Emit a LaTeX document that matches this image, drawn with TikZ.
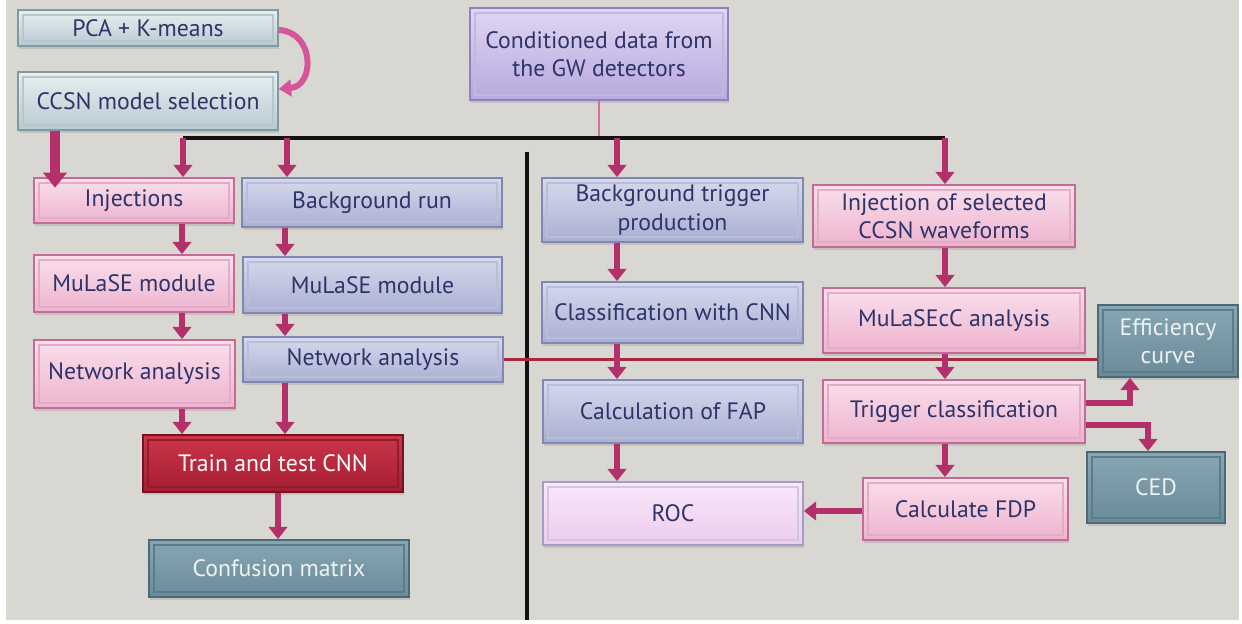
\documentclass[tikz,border=0pt]{standalone}
\usepackage{fontspec}
\setmainfont{PT Sans}
\usetikzlibrary{arrows.meta,shadows}
\definecolor{bgc}{HTML}{D9D7D2}
\definecolor{navy}{HTML}{2E3468}
\definecolor{arrc}{HTML}{B3306A}
\definecolor{curvc}{HTML}{D4559A}
\definecolor{busc}{HTML}{111111}
\definecolor{redl}{HTML}{A8283E}
\definecolor{gbT}{HTML}{E8EFF1}\definecolor{gbB}{HTML}{B7CAD1}\definecolor{gbD}{HTML}{7F9AA3}
\definecolor{lvT}{HTML}{E0D6F3}\definecolor{lvB}{HTML}{B8A8DF}\definecolor{lvD}{HTML}{8F80BF}
\definecolor{blT}{HTML}{D6D9EC}\definecolor{blB}{HTML}{A9AFD3}\definecolor{blD}{HTML}{7F87B2}
\definecolor{pkT}{HTML}{FADFEC}\definecolor{pkB}{HTML}{EEB2CE}\definecolor{pkD}{HTML}{C56A97}
\definecolor{roT}{HTML}{F9E8F9}\definecolor{roB}{HTML}{EDCBEE}\definecolor{roD}{HTML}{A79AC6}
\definecolor{rdT}{HTML}{CC3549}\definecolor{rdB}{HTML}{A51E34}\definecolor{rdD}{HTML}{761224}
\definecolor{tlT}{HTML}{88A6B3}\definecolor{tlB}{HTML}{6A8B99}\definecolor{tlD}{HTML}{4B6A77}
\definecolor{tltx}{HTML}{EEF2F3}
\tikzset{
  box/.style={rectangle, inner sep=2pt, align=center, text=navy, line width=1pt,
    font=\fontsize{13.5}{16}\selectfont,
    drop shadow={opacity=0.25, shadow xshift=0.8pt, shadow yshift=-1.6pt}},
  bevel/.style={path picture={\draw[line width=1.1pt, #1]
    ([shift={(3pt,3pt)}]path picture bounding box.south west) rectangle
    ([shift={(-3pt,-3pt)}]path picture bounding box.north east);}},
  gbbox/.style={box, draw=gbD, top color=gbT, bottom color=gbB, bevel=gbD!55!white},
  lvbox/.style={box, draw=lvD, top color=lvT, bottom color=lvB, bevel=lvD!55!white},
  blbox/.style={box, draw=blD, top color=blT, bottom color=blB, bevel=blD!55!white},
  pkbox/.style={box, draw=pkD, top color=pkT, bottom color=pkB, bevel=pkD!55!white},
  robox/.style={box, draw=roD, top color=roT, bottom color=roB, bevel=roD!55!white},
  rdbox/.style={box, draw=rdD, top color=rdT, bottom color=rdB, text=white, bevel=rdD!70!rdT},
  tlbox/.style={box, draw=tlD, top color=tlT, bottom color=tlB, text=tltx, bevel=tlD!70!tlT},
  arr/.style={draw=arrc, line width=3.8pt, -{Triangle[width=10.5pt,length=7pt]}},
  bigarr/.style={draw=arrc, line width=5.2pt, -{Triangle[width=13pt,length=8.5pt]}},
  curvarr/.style={draw=curvc, line width=3.4pt, -{Triangle[width=9.5pt,length=7pt]}},
  busline/.style={draw=busc, line width=2pt},
}
\begin{document}
\begin{tikzpicture}[x=0.02cm,y=-0.02cm]
\useasboundingbox (0,0) rectangle (1242,624);
\fill[white] (0,0) rectangle (1242,624);
\fill[bgc] (6,0) rectangle (1239,620);

% nodes
\node[gbbox, minimum width=5.2cm, minimum height=0.72cm] (pca) at (148,28) {PCA + K-means};
\node[gbbox, minimum width=5.2cm, minimum height=1.16cm] (ccsn) at (148,101) {CCSN model selection};
\node[lvbox, minimum width=5.16cm, minimum height=1.84cm] (cond) at (599,54) {Conditioned data from\\the GW detectors};

\node[pkbox, minimum width=4.0cm, minimum height=0.9cm] (inj) at (134,200.5) {Injections};
\node[blbox, minimum width=5.2cm, minimum height=0.98cm] (bgrun) at (372,202.5) {Background run};
\node[pkbox, minimum width=4.0cm, minimum height=1.14cm] (mulp) at (134,283.5) {MuLaSE module};
\node[blbox, minimum width=5.18cm, minimum height=1.12cm] (mulb) at (372.5,285) {MuLaSE module};
\node[pkbox, minimum width=4.02cm, minimum height=1.36cm] (netp) at (134.5,374) {Network analysis};
\node[blbox, minimum width=5.2cm, minimum height=0.9cm] (netb) at (373,359.5) {Network analysis};
\node[rdbox, minimum width=5.2cm, minimum height=1.14cm] (train) at (273,463.5) {Train and test CNN};
\node[tlbox, minimum width=5.2cm, minimum height=1.14cm] (conf) at (279,568.5) {Confusion matrix};

\node[blbox, minimum width=5.22cm, minimum height=1.28cm] (bgtrig) at (672.5,210) {Background trigger\\production};
\node[blbox, minimum width=5.22cm, minimum height=1.22cm] (cls) at (672.5,312.5) {Classification with CNN};
\node[blbox, minimum width=5.2cm, minimum height=1.26cm] (fap) at (673,411.5) {Calculation of FAP};
\node[robox, minimum width=5.2cm, minimum height=1.26cm] (roc) at (673,513.5) {ROC};

\node[pkbox, minimum width=5.24cm, minimum height=1.24cm] (injsel) at (944,216) {Injection of selected\\CCSN waveforms};
\node[pkbox, minimum width=5.24cm, minimum height=1.3cm] (mulc) at (954,320.5) {MuLaSEcC analysis};
\node[pkbox, minimum width=5.24cm, minimum height=1.26cm] (trig) at (954,411.5) {Trigger classification};
\node[pkbox, minimum width=4.1cm, minimum height=1.24cm] (fdp) at (965.5,509) {Calculate FDP};
\node[tlbox, minimum width=2.8cm, minimum height=1.44cm] (eff) at (1168,341) {Efficiency\\curve};
\node[tlbox, minimum width=2.76cm, minimum height=1.42cm] (ced) at (1156,487.5) {CED};

% bus lines
\coordinate (busL) at (183,138);
\coordinate (busR) at (945,138);
\coordinate (vtop) at (527,152);
\coordinate (vbot) at (527,620);
\draw[draw=curvc!80!bgc, line width=0.8pt] (cond.south) -- (cond.south |- busL);
\draw[busline] (busL) -- (busR);
\draw[busline] (vtop) -- (vbot);

% red line
\draw[draw=redl, line width=1.2pt] (netb.east) -- (netb.east -| eff.west);

% arrows from bus
\draw[arr] (busL) -- (inj.north -| busL);
\draw[arr] (287,138 |- busL) -- (bgrun.north -| 287,0);
\draw[arr] (617,0 |- busL) -- (bgtrig.north -| 617,0);
\draw[arr] (busR) -- (injsel.north -| busR);

% left pink column
\draw[bigarr] (ccsn.south -| 55,0) -- ([yshift=-6pt]inj.north -| 55,0);
\draw[arr] (inj.south -| 182,0) -- (mulp.north -| 182,0);
\draw[arr] (mulp.south -| 182,0) -- (netp.north -| 182,0);
\draw[arr] (netp.south -| 182,0) -- (train.north -| 182,0);
% left blue column
\draw[arr] (bgrun.south -| 285,0) -- (mulb.north -| 285,0);
\draw[arr] (mulb.south -| 285,0) -- (netb.north -| 285,0);
\draw[arr] (netb.south -| 285,0) -- (train.north -| 285,0);
\draw[arr] (train.south -| 278,0) -- (conf.north -| 278,0);

% right blue column
\draw[arr] (bgtrig.south -| 617,0) -- (cls.north -| 617,0);
\draw[arr] (cls.south -| 617,0) -- (fap.north -| 617,0);
\draw[arr] (fap.south -| 617,0) -- (roc.north -| 617,0);

% right pink column
\draw[arr] (injsel.south -| 945,0) -- (mulc.north -| 945,0);
\draw[arr] (mulc.south -| 945,0) -- (trig.north -| 945,0);
\draw[arr] (trig.south -| 945,0) -- (fdp.north -| 945,0);
\draw[arr] (fdp.west |- 0,511) -- (roc.east |- 0,511);
\draw[arr] (trig.east |- 0,403) -| (eff.south -| 1130,0);
\draw[arr] (trig.east |- 0,425) -| (ced.north -| 1148,0);

% curved arrow
\draw[curvarr] (pca.east |- 0,30) .. controls (315,32) and (315,86) .. (ccsn.east |- 0,89);
\end{tikzpicture}
\end{document}
